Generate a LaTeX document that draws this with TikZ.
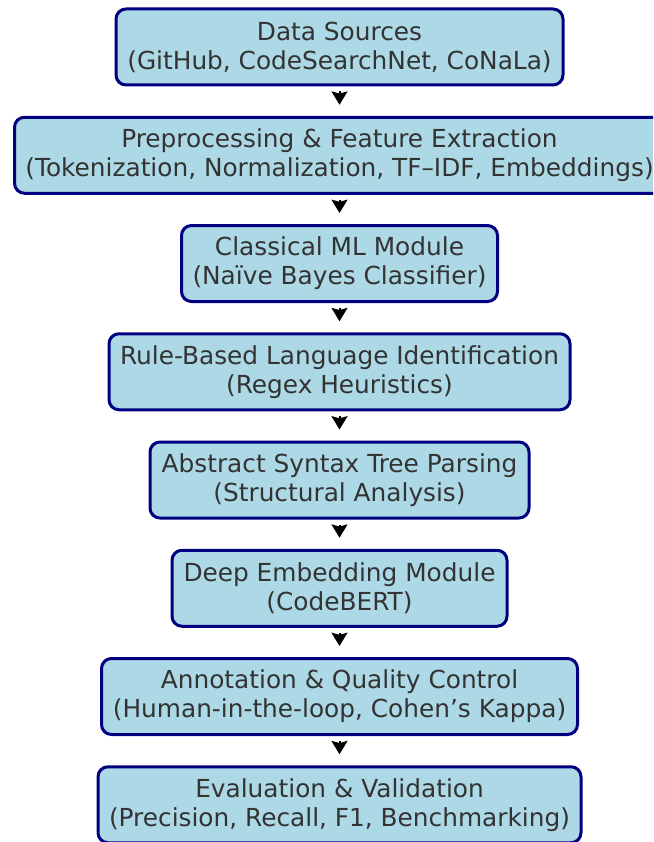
\documentclass[tikz,border=0pt]{standalone}
\usepackage{fontspec}
\setmainfont{DejaVu Sans}
\usetikzlibrary{arrows.meta}
\definecolor{boxfill}{HTML}{ADD8E6}
\definecolor{boxline}{HTML}{000080}
\definecolor{txt}{HTML}{333333}
\tikzset{
  stagebox/.style={draw=boxline, fill=boxfill, line width=2.25pt, rounded corners=7.5pt,
    minimum height=57pt, align=center, text=txt, inner sep=0pt,
    font=\fontsize{18.6}{21.75}\selectfont},
  flowarrow/.style={-{Stealth[length=10pt,width=12pt,inset=1.6pt]}, line width=1.5pt, black,
    shorten <=3.75pt, shorten >=8.25pt}
}
\begin{document}
\begin{tikzpicture}[x=0.75pt,y=-0.75pt]
\clip (0,0) rectangle (653,842);
\fill[white] (0,0) rectangle (653,842);
\node[stagebox, minimum width=335.25pt] (n1) at (339.5,47) {Data Sources\\(GitHub, CodeSearchNet, CoNaLa)};
\node[stagebox, minimum width=487.5pt] (n2) at (339.5,155.25) {Preprocessing \& Feature Extraction\\(Tokenization, Normalization, TF–IDF, Embeddings)};
\node[stagebox, minimum width=237pt] (n3) at (339.5,263.5) {Classical ML Module\\(Naïve Bayes Classifier)};
\node[stagebox, minimum width=345.75pt] (n4) at (339.5,371.75) {Rule-Based Language Identification\\(Regex Heuristics)};
\node[stagebox, minimum width=284.25pt] (n5) at (339.5,480) {Abstract Syntax Tree Parsing\\(Structural Analysis)};
\node[stagebox, minimum width=251.25pt] (n6) at (339.5,588.25) {Deep Embedding Module\\(CodeBERT)};
\node[stagebox, minimum width=357pt] (n7) at (339.5,696.5) {Annotation \& Quality Control\\(Human-in-the-loop, Cohen’s Kappa)};
\node[stagebox, minimum width=362.25pt] (n8) at (339.5,804.75) {Evaluation \& Validation\\(Precision, Recall, F1, Benchmarking)};
\draw[flowarrow] (n1) -- (n2);
\draw[flowarrow] (n2) -- (n3);
\draw[flowarrow] (n3) -- (n4);
\draw[flowarrow] (n4) -- (n5);
\draw[flowarrow] (n5) -- (n6);
\draw[flowarrow] (n6) -- (n7);
\draw[flowarrow] (n7) -- (n8);
\end{tikzpicture}
\end{document}
